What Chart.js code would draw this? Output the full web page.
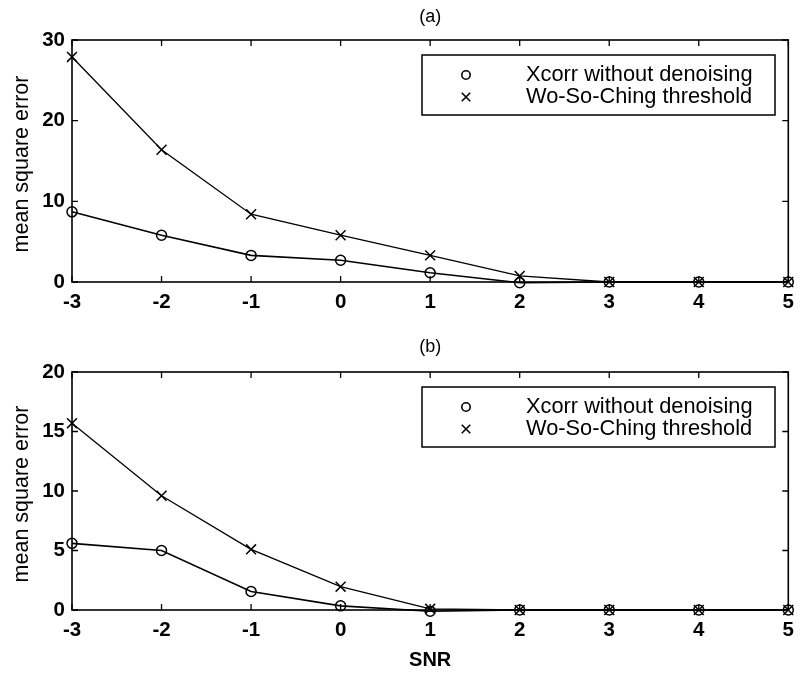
<!DOCTYPE html>
<html><head><meta charset="utf-8">
<script src="https://cdn.jsdelivr.net/npm/chart.js@4/dist/chart.umd.min.js"></script>
<style>
html,body{margin:0;padding:0;background:#fff;}
#wrap{position:relative;width:802px;height:673px;background:#fff;}
canvas{position:absolute;left:0;}
#c1{top:0;} #c2{top:330px;}
</style></head><body>
<div id="wrap">
<canvas id="c1" width="802" height="330"></canvas>
<canvas id="c2" width="802" height="343"></canvas>
</div>
<script>
const snr = [-3, -2, -1, 0, 1, 2, 3, 4, 5];
const xcorrA = [8.7, 5.8, 3.3, 2.7, 1.15, -0.1, 0, 0, 0];
const wosoA  = [27.9, 16.4, 8.4, 5.8, 3.3, 0.75, 0, 0, 0];
const xcorrB = [5.6, 5.0, 1.55, 0.35, -0.1, 0, 0, 0, 0];
const wosoB  = [15.7, 9.6, 5.1, 1.96, 0.1, 0, 0, 0, 0];
const yTicksA = [0, 10, 20, 30];
const yTicksB = [0, 5, 10, 15, 20];
const xTicks = [-3, -2, -1, 0, 1, 2, 3, 4, 5];
const legendLabels = ['Xcorr without denoising', 'Wo-So-Ching threshold'];
const panelTitles = ['(a)', '(b)'];
const yTitle = 'mean square error';
const xTitle = 'SNR';

const FONT = '"Liberation Sans", Arial, sans-serif';

function pts(xs, ys){ return xs.map((x,i)=>({x:x, y:ys[i]})); }

const framePlugin = {
  id: 'frame',
  afterDatasetsDraw(chart, args, o) {
    const ctx = chart.ctx, a = chart.chartArea, xs = chart.scales.x, ys = chart.scales.y;
    ctx.save();
    ctx.strokeStyle = '#000';
    ctx.lineWidth = 1.6;
    ctx.strokeRect(a.left, a.top, a.right - a.left, a.bottom - a.top);
    ctx.lineWidth = 1.3;
    ctx.beginPath();
    xs.ticks.forEach(t => {
      const p = xs.getPixelForValue(t.value);
      ctx.moveTo(p, a.bottom); ctx.lineTo(p, a.bottom - 6);
      ctx.moveTo(p, a.top); ctx.lineTo(p, a.top + 6);
    });
    ys.ticks.forEach(t => {
      const p = ys.getPixelForValue(t.value);
      ctx.moveTo(a.left, p); ctx.lineTo(a.left + 6, p);
      ctx.moveTo(a.right, p); ctx.lineTo(a.right - 6, p);
    });
    ctx.stroke();
    // panel title
    ctx.fillStyle = '#000';
    ctx.textAlign = 'center';
    ctx.textBaseline = 'middle';
    ctx.font = '18px ' + FONT;
    ctx.fillText(o.title, (a.left + a.right) / 2, o.titleY);
    // y axis title
    ctx.save();
    ctx.translate(22, (a.top + a.bottom) / 2 + 3);
    ctx.rotate(-Math.PI / 2);
    ctx.font = '21.5px ' + FONT;
    ctx.fillText(yTitle, 0, 0);
    ctx.restore();
    // x axis title
    if (o.xTitle) {
      ctx.font = 'bold 20px ' + FONT;
      ctx.fillText(o.xTitle, (a.left + a.right) / 2, o.xTitleY);
    }
    // legend
    const L = 422, R = 775, T = a.top + 15, B = a.top + 75;
    ctx.fillStyle = '#fff';
    ctx.fillRect(L, T, R - L, B - T);
    ctx.strokeStyle = '#000';
    ctx.lineWidth = 1.5;
    ctx.strokeRect(L, T, R - L, B - T);
    ctx.textAlign = 'left';
    ctx.font = '21.8px ' + FONT;
    const rows = [T + 20, T + 42];
    const styles = ['circle', 'crossRot'];
    const radii = [4.2, 6];
    rows.forEach((ry, i) => {
      ctx.fillStyle = 'rgba(0,0,0,0)';
      ctx.strokeStyle = '#000';
      ctx.lineWidth = 1.6;
      Chart.helpers.drawPoint(ctx, {pointStyle: styles[i], radius: radii[i], borderWidth: 1.6}, 466, ry);
      ctx.fillStyle = '#000';
      ctx.fillText(legendLabels[i], 526, ry);
    });
    ctx.restore();
  }
};

function makeChart(id, dx, dw, yT, topPad, xH, title, titleY, xt, xtY) {
  const tickFont = {family: FONT, size: 20.5, weight: 'bold'};
  return new Chart(document.getElementById(id), {
    type: 'line',
    data: {
      datasets: [
        {label: legendLabels[0], data: pts(snr, dx), borderColor: '#000', backgroundColor: 'transparent',
         borderWidth: 1.6, pointStyle: 'circle', pointRadius: 5, pointBorderWidth: 1.5, pointBorderColor: '#000',
         pointBackgroundColor: 'transparent', tension: 0, clip: false},
        {label: legendLabels[1], data: pts(snr, dw), borderColor: '#000', backgroundColor: 'transparent',
         borderWidth: 1.3, pointStyle: 'crossRot', pointRadius: 7, pointBorderWidth: 1.5, pointBorderColor: '#000',
         tension: 0, clip: false}
      ]
    },
    options: {
      responsive: false, animation: false,
      layout: {padding: {left: 0, right: 7, top: topPad, bottom: 0}},
      plugins: {legend: {display: false}, tooltip: {enabled: false},
        frame: {title: title, titleY: titleY, xTitle: xt, xTitleY: xtY}},
      scales: {
        x: {type: 'linear', min: xTicks[0], max: xTicks[xTicks.length - 1],
            afterBuildTicks: s => { s.ticks = xTicks.map(v => ({value: v})); },
            ticks: {font: tickFont, color: '#000', padding: 8, maxRotation: 0, autoSkip: false},
            grid: {display: false, drawTicks: false}, border: {display: false},
            afterFit: s => { s.height = xH; }},
        y: {min: yT[0], max: yT[yT.length - 1],
            afterBuildTicks: s => { s.ticks = yT.map(v => ({value: v})); },
            ticks: {font: tickFont, color: '#000', padding: 7},
            grid: {display: false, drawTicks: false}, border: {display: false},
            afterFit: s => { s.width = 72; }}
      }
    },
    plugins: [framePlugin]
  });
}

makeChart('c1', xcorrA, wosoA, yTicksA, 40, 48, panelTitles[0], 17, null, 0);
makeChart('c2', xcorrB, wosoB, yTicksB, 42, 63, panelTitles[1], 17, xTitle, 330);
</script>
</body></html>
